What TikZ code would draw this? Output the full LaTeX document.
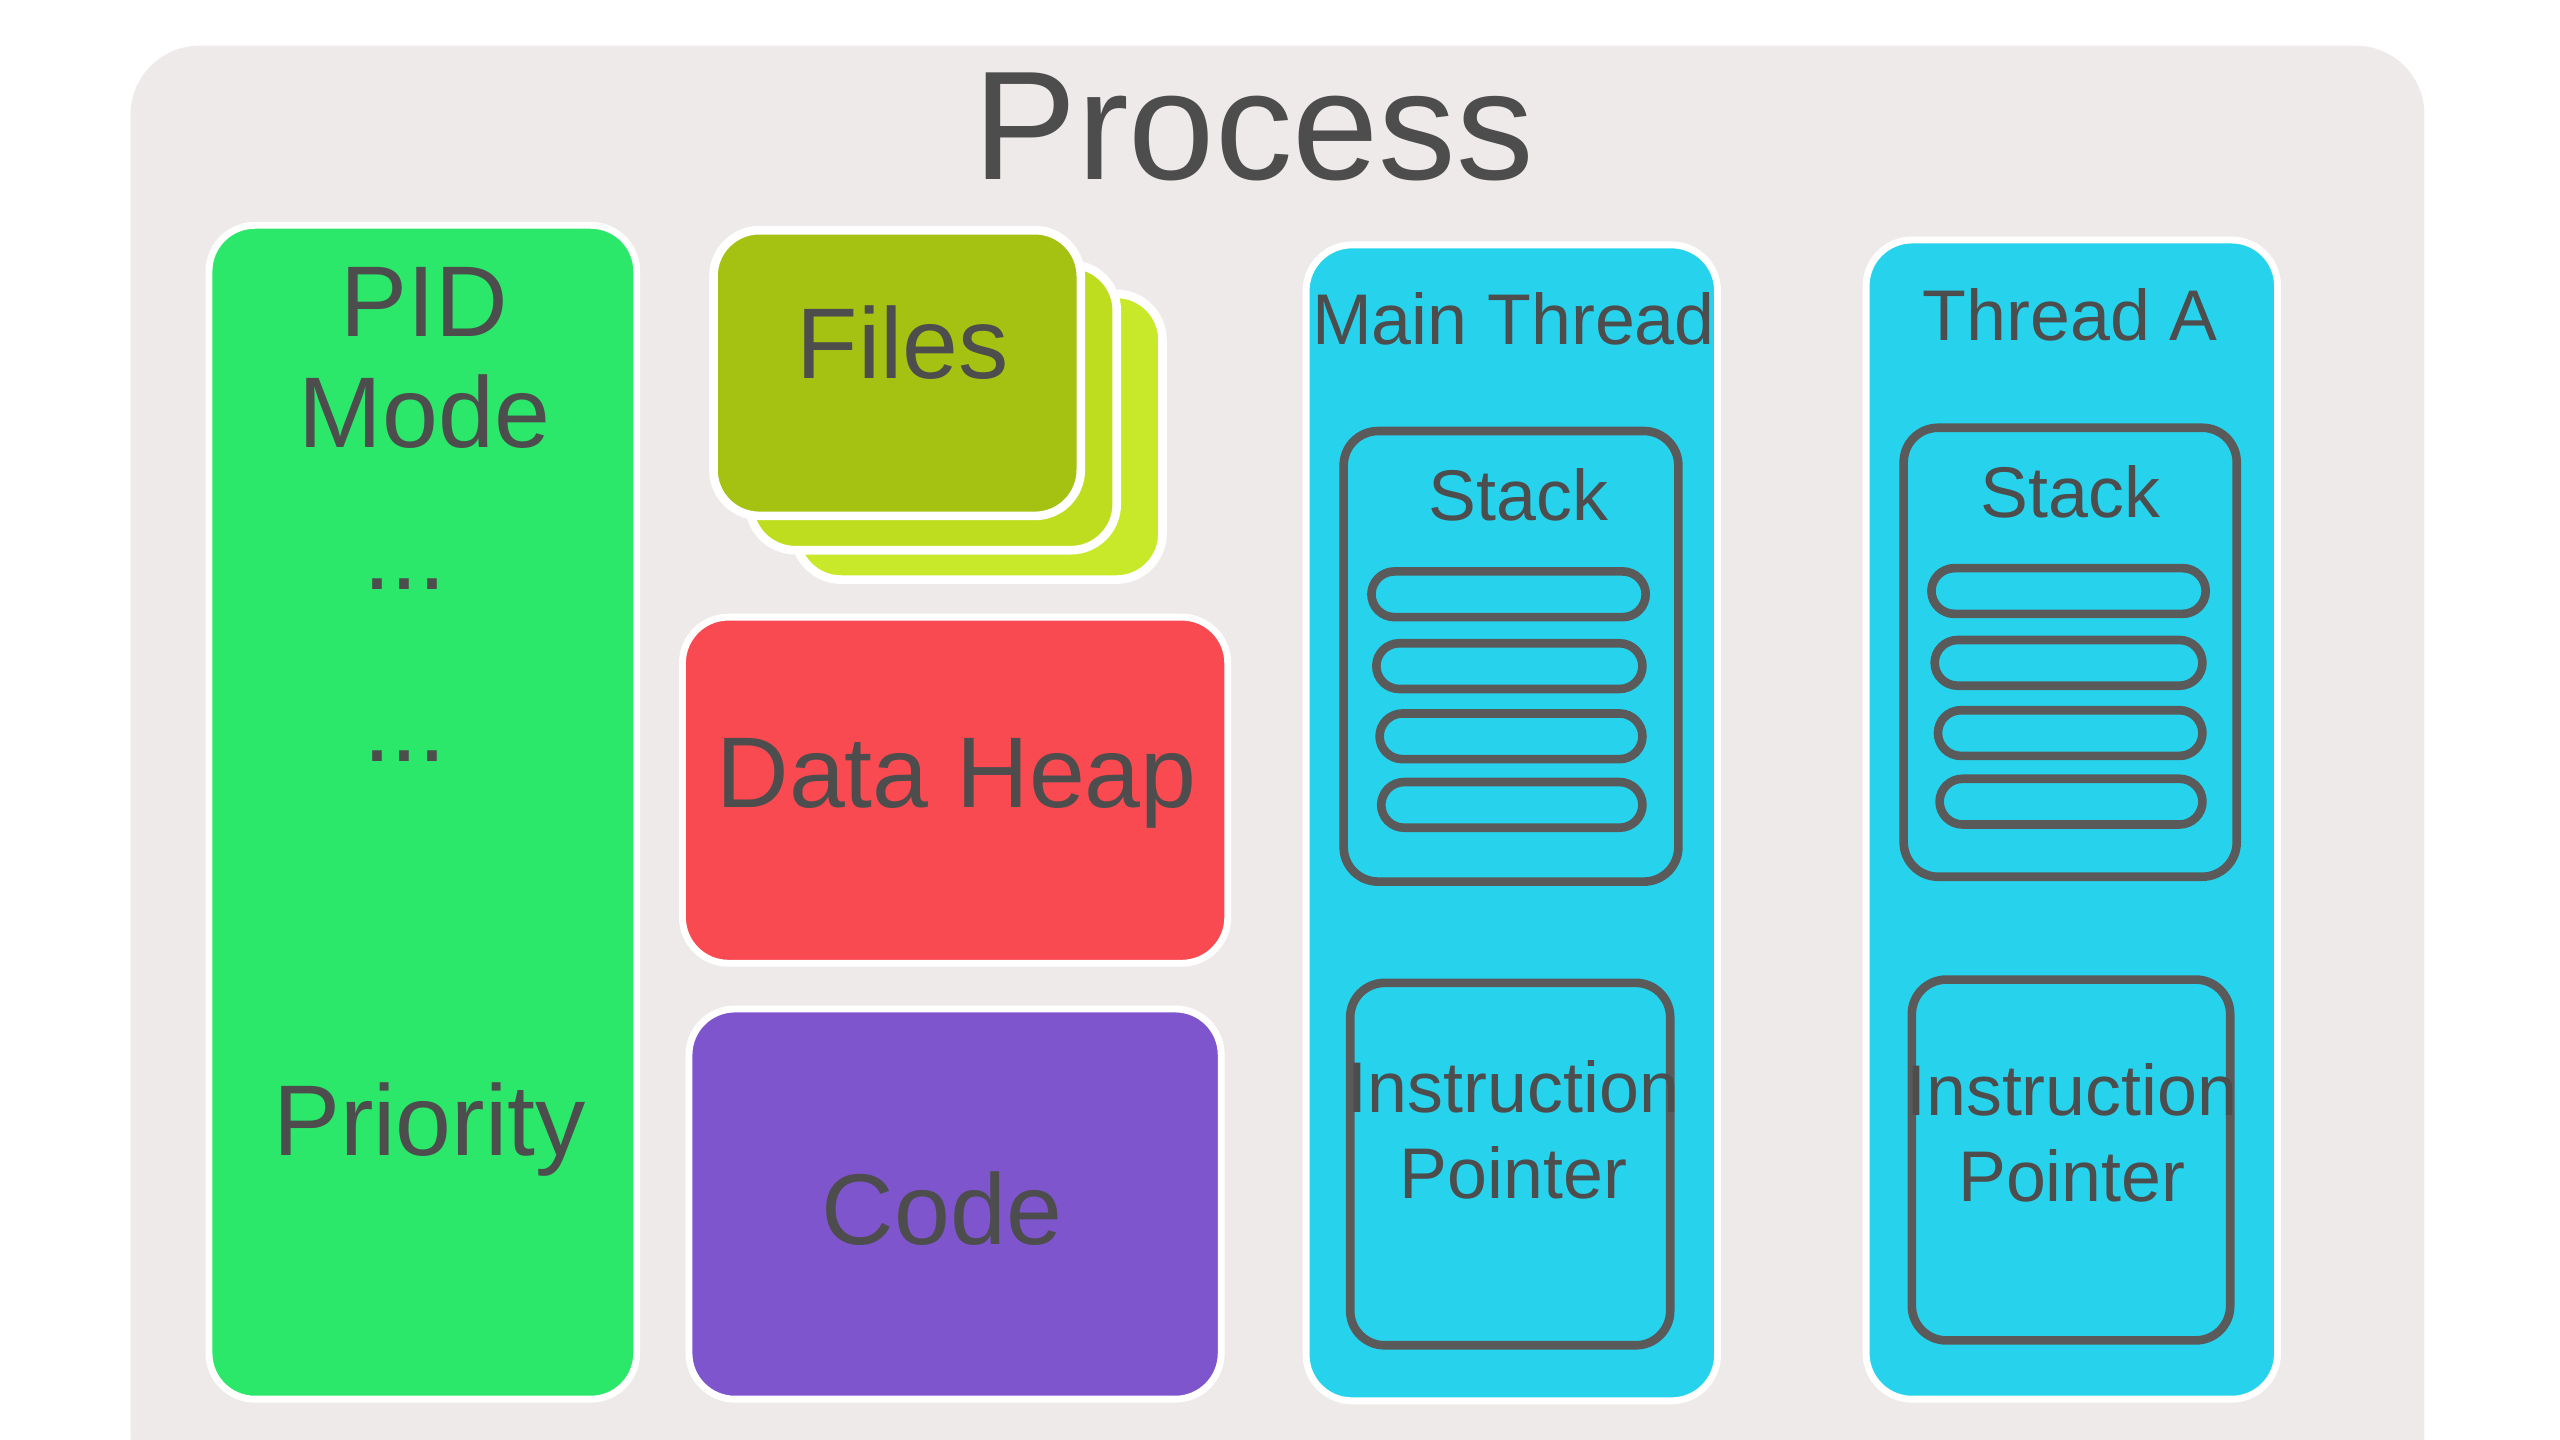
\documentclass[tikz,border=0pt]{standalone}
\usepackage{fontspec}
\setmainfont{Liberation Sans}
\begin{document}
\begin{tikzpicture}[x=0.01cm,y=-0.01cm,
  txt/.style={text=tx,font=\fontsize{17.5}{21}\selectfont,align=center},
  sm/.style={text=tx,font=\fontsize{12.5}{15}\selectfont,align=center},
  panel/.style={rounded corners=8pt,draw=white,line width=1.2pt},
  box/.style={draw=bx,line width=1.5pt,rounded corners=6pt},
  pill/.style={draw=bx,line width=1.5pt,rounded corners=4pt}]
\definecolor{tx}{HTML}{4D4D4D}
\definecolor{bx}{HTML}{5A5A5A}
\definecolor{bgc}{HTML}{EEEAE9}
\definecolor{grn}{HTML}{2BE86A}
\definecolor{f1}{HTML}{A5C212}
\definecolor{f2}{HTML}{BEDD1F}
\definecolor{f3}{HTML}{C8E82A}
\definecolor{red}{HTML}{F84A50}
\definecolor{pur}{HTML}{7E55CC}
\definecolor{cyn}{HTML}{27D3EC}
\useasboundingbox (0,0) rectangle (1568,882);
\fill[white] (0,0) rectangle (1568,882);
\fill[bgc,rounded corners=12pt] (80,28) rectangle (1485,920);
\node[text=tx,font=\fontsize{27}{30}\selectfont] (title) at (768,78) {Process};
% green
\draw[panel,fill=grn] (128,138) rectangle (390,857);
\node[txt] (pid) at (260,185) {PID};
\node[txt] (mode) at (260,252) {Mode};
\node[txt] (d1) at (248,358) {...};
\node[txt] (d2) at (248,463) {...};
\node[txt] (prio) at (263,692) {Priority};
% files
\draw[panel,fill=f3,line width=1.5pt] (487,180) rectangle (712,355);
\draw[panel,fill=f2,line width=1.5pt] (459,162) rectangle (684,337);
\draw[panel,fill=f1,line width=1.5pt] (437,141) rectangle (662,316);
\node[txt] (files) at (553,210) {Files};
\draw[panel,fill=red] (418,378) rectangle (752,590);
\node[txt] (heap) at (586,480) {Data Heap};
\draw[panel,fill=pur] (422,618) rectangle (748,857);
\node[txt] (code) at (577,740) {Code};
% main thread
\draw[panel,fill=cyn] (800,150) rectangle (1052,858);
\node[sm] (mt) at (927,195) {Main Thread};
\draw[box] (823,264) rectangle (1028,540);
\node[sm] (ms) at (930,303) {Stack};
\draw[pill] (840,350) rectangle (1008,378);
\draw[pill] (843,394) rectangle (1006,422);
\draw[pill] (845,437) rectangle (1006,465);
\draw[pill] (846,479) rectangle (1006,507);
\draw[box] (827,602) rectangle (1023,824);
\node[sm] (mip) at (927,692) {Instruction\\Pointer};
% thread A
\draw[panel,fill=cyn] (1143,147) rectangle (1395,857);
\node[sm] (ta) at (1268,193) {Thread A};
\draw[box] (1166,262) rectangle (1370,537);
\node[sm] (as) at (1268,301) {Stack};
\draw[pill] (1183,348) rectangle (1351,376);
\draw[pill] (1185,392) rectangle (1349,420);
\draw[pill] (1187,435) rectangle (1349,463);
\draw[pill] (1188,477) rectangle (1349,505);
\draw[box] (1171,600) rectangle (1366,821);
\node[sm] (aip) at (1269,694) {Instruction\\Pointer};
\end{tikzpicture}
\end{document}
